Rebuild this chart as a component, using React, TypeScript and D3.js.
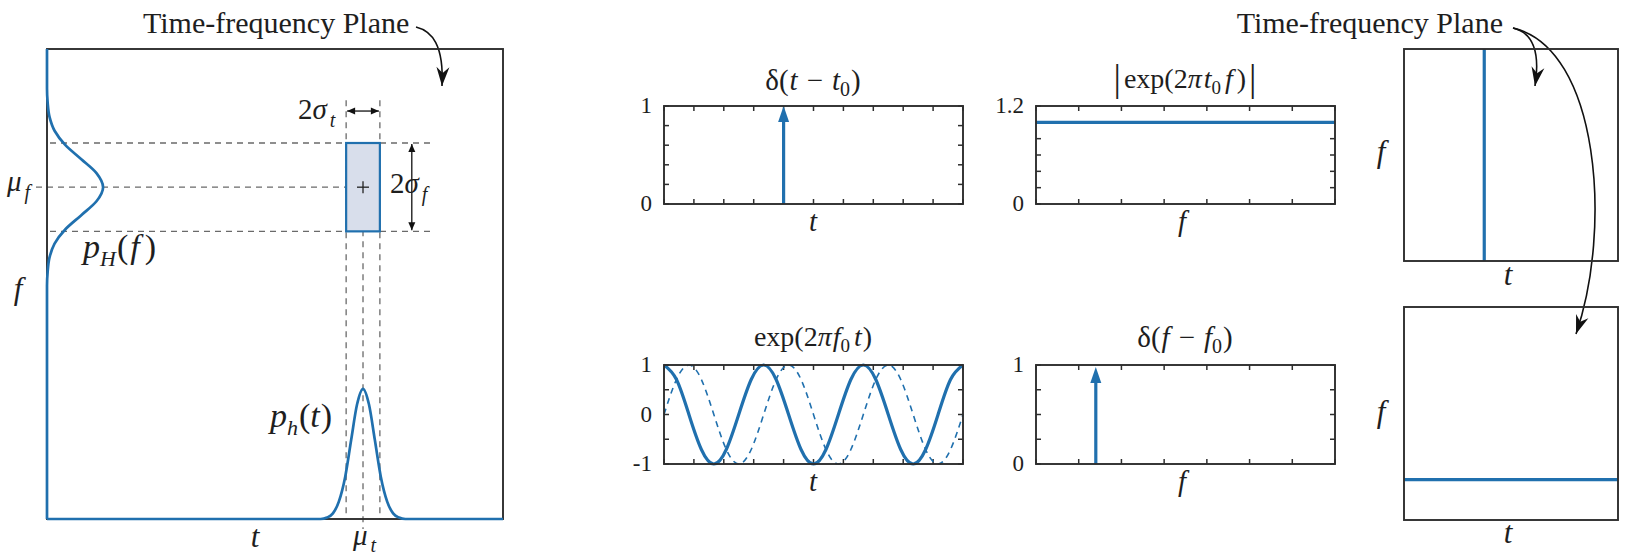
import React from "react";
import * as d3 from "d3";

const BLUE = "#2070ae";
const AXIS = "#2e2e2e";
const DASH = "#6a6a6a";
const FONT = '"Liberation Serif", "Times New Roman", serif';

// ---------- Left panel: time-frequency plane ----------
const phTimes = [0, 0.6, 0.614, 0.627, 0.64, 0.654, 0.667, 0.68, 0.693, 0.706, 0.719, 0.732, 0.746, 0.759, 0.772, 0.786, 1];
const phValues = [0, 0, 0.003, 0.012, 0.037, 0.09, 0.168, 0.244, 0.277, 0.244, 0.168, 0.09, 0.037, 0.012, 0.003, 0, 0];
const pHFreqs = [0, 0.496, 0.526, 0.556, 0.586, 0.616, 0.646, 0.676, 0.706, 0.736, 0.766, 0.796, 0.826, 0.856, 0.886, 0.916, 1];
const pHValues = [0, 0, 0.0014, 0.0054, 0.0166, 0.0399, 0.0746, 0.1085, 0.123, 0.1085, 0.0746, 0.0399, 0.0166, 0.0054, 0.0014, 0, 0];
const muT = 0.693;
const sigmaT = 0.037;
const muF = 0.706;
const sigmaF = 0.094;

// ---------- Middle panels ----------
const deltaTimeTicks = [0, 0.1, 0.2, 0.3, 0.4, 0.5, 0.6, 0.7, 0.8, 0.9, 1];
const deltaTimeYTicks = [0, 0.2, 0.4, 0.6, 0.8, 1];
const deltaTimeYLabels = ["0", "1"];
const t0 = 0.4;

const magFreqTicks = [0, 1, 2, 3, 4, 5, 6, 7];
const magYTicks = [0, 0.2, 0.4, 0.6, 0.8, 1, 1.2];
const magYLabels = ["0", "1.2"];
const magValue = 1;

const waveTimeTicks = [0, 0.1, 0.2, 0.3, 0.4, 0.5, 0.6, 0.7, 0.8, 0.9, 1];
const waveYTicks = [-1, -0.5, 0, 0.5, 1];
const waveYLabels = ["-1", "0", "1"];
const waveTimes = [0, 1 / 24, 2 / 24, 3 / 24, 4 / 24, 5 / 24, 6 / 24, 7 / 24, 8 / 24, 9 / 24, 10 / 24, 11 / 24, 12 / 24, 13 / 24, 14 / 24, 15 / 24, 16 / 24, 17 / 24, 18 / 24, 19 / 24, 20 / 24, 21 / 24, 22 / 24, 23 / 24, 1];
const realPart = [1, 0.707, 0, -0.707, -1, -0.707, 0, 0.707, 1, 0.707, 0, -0.707, -1, -0.707, 0, 0.707, 1, 0.707, 0, -0.707, -1, -0.707, 0, 0.707, 1];
const imagPart = [0, 0.707, 1, 0.707, 0, -0.707, -1, -0.707, 0, 0.707, 1, 0.707, 0, -0.707, -1, -0.707, 0, 0.707, 1, 0.707, 0, -0.707, -1, -0.707, 0];

const deltaFreqTicks = [0, 1, 2, 3, 4, 5, 6, 7];
const deltaFreqYTicks = [0, 0.25, 0.5, 0.75, 1];
const deltaFreqYLabels = ["0", "1"];
const f0 = 1.4;
const deltaFreqHeight = 0.98;

// ---------- Right panels ----------
const planeT0 = 0.375;
const planeF0 = 0.19;

const TS = { fontFamily: FONT };
const IT = { fontFamily: FONT, fontStyle: "italic" as const };

function T(props: any) {
  const { children, style, ...rest } = props;
  return (
    <text fill="#1e1e1e" {...rest} style={{ ...TS, ...(style || {}) }}>
      {children}
    </text>
  );
}

function MiniAxes({ x, y, xTicks, yTicks, yLabels }: any) {
  const [x0, x1] = x.range();
  const [y0, y1] = y.range();
  const tl = 5;
  return (
    <g>
      {xTicks.map((t: number, i: number) => (
        <g key={"x" + i}>
          <line x1={x(t)} x2={x(t)} y1={y0} y2={y0 - tl} stroke={AXIS} strokeWidth={1.5} />
          <line x1={x(t)} x2={x(t)} y1={y1} y2={y1 + tl} stroke={AXIS} strokeWidth={1.5} />
        </g>
      ))}
      {yTicks.map((t: number, i: number) => (
        <g key={"y" + i}>
          <line x1={x0} x2={x0 + tl} y1={y(t)} y2={y(t)} stroke={AXIS} strokeWidth={1.5} />
          <line x1={x1} x2={x1 - tl} y1={y(t)} y2={y(t)} stroke={AXIS} strokeWidth={1.5} />
        </g>
      ))}
      {yLabels.map((l: string, i: number) => (
        <T key={"l" + i} x={x0 - 12} y={y(+l) + 7} textAnchor="end" fontSize={23}>
          {l}
        </T>
      ))}
    </g>
  );
}

function Frame({ x, y }: any) {
  const [x0, x1] = x.range();
  const [y0, y1] = y.range();
  return <rect x={x0} y={y1} width={x1 - x0} height={y0 - y1} fill="none" stroke={AXIS} strokeWidth={1.9} />;
}

function DeltaArrow({ x, y, pos, height }: any) {
  const tipY = y(height);
  const baseY = y.range()[0];
  const hx = x(pos);
  const len = 16;
  return (
    <g>
      <line x1={hx} x2={hx} y1={baseY} y2={tipY + len - 2} stroke={BLUE} strokeWidth={3.2} />
      <path d={`M${hx},${tipY} L${hx - 5.5},${tipY + len} L${hx + 5.5},${tipY + len} Z`} fill={BLUE} />
    </g>
  );
}

export default function App() {
  const xL = d3.scaleLinear().domain([0, 1]).range([47, 503]);
  const yL = d3.scaleLinear().domain([0, 1]).range([519, 49]);
  const phPath = d3
    .line<number>()
    .x((_, i) => xL(phTimes[i]))
    .y((d) => yL(d))
    .curve(d3.curveMonotoneX)(phValues) as string;
  const pHPath = d3
    .line<number>()
    .x((d) => xL(d))
    .y((_, i) => yL(pHFreqs[i]))
    .curve(d3.curveMonotoneY)(pHValues) as string;

  const tA = xL(muT - sigmaT);
  const tB = xL(muT + sigmaT);
  const tC = xL(muT);
  const fA = yL(muF + sigmaF);
  const fB = yL(muF - sigmaF);
  const fC = yL(muF);

  const x1 = d3.scaleLinear().domain([0, 1]).range([664, 963]);
  const y1 = d3.scaleLinear().domain([0, 1]).range([204, 106]);
  const x2 = d3.scaleLinear().domain([0, 7]).range([1036, 1335]);
  const y2 = d3.scaleLinear().domain([0, 1.2]).range([204, 106]);
  const x3 = d3.scaleLinear().domain([0, 1]).range([664, 963]);
  const y3 = d3.scaleLinear().domain([-1, 1]).range([464, 365]);
  const x4 = d3.scaleLinear().domain([0, 7]).range([1036, 1335]);
  const y4 = d3.scaleLinear().domain([0, 1]).range([464, 365]);

  const waveLine = (vals: number[]) =>
    d3
      .line<number>()
      .x((_, i) => x3(waveTimes[i]))
      .y((d) => y3(d))
      .curve(d3.curveNatural)(vals) as string;

  const xR = d3.scaleLinear().domain([0, 1]).range([1404, 1618]);
  const yRT = d3.scaleLinear().domain([0, 1]).range([261, 49]);
  const yRB = d3.scaleLinear().domain([0, 1]).range([520, 307]);

  return (
    <svg width={1635} height={559} style={{ position: "absolute", left: 0, top: 0, background: "#fff" }}>
      <defs>
        <marker id="stealth" viewBox="-20 -10 22 20" refX={0} refY={0} markerWidth={22} markerHeight={20} markerUnits="userSpaceOnUse" orient="auto">
          <path d="M0,0 L-19,-6.5 L-13,0 L-19,6.5 Z" fill="#111" />
        </marker>
        <marker id="smallHead" viewBox="-10 -6 12 12" refX={0} refY={0} markerWidth={12} markerHeight={12} markerUnits="userSpaceOnUse" orient="auto-start-reverse">
          <path d="M0,0 L-8,-3.5 L-8,3.5 Z" fill="#111" />
        </marker>
      </defs>

      {/* ===== Left panel ===== */}
      <T x={143} y={33} fontSize={30}>Time-frequency Plane</T>
      <path d="M416,27 C432,31 444,45 442,86" fill="none" stroke="#111" strokeWidth={1.6} markerEnd="url(#stealth)" />

      <g stroke={DASH} strokeWidth={1.3} strokeDasharray="6,5" fill="none">
        <line x1={xL(0) + 3} x2={xL(0.84)} y1={fA} y2={fA} />
        <line x1={xL(0) + 3} x2={xL(0.84)} y1={fB} y2={fB} />
        <line x1={36} x2={tA} y1={fC} y2={fC} />
        <line x1={tA} x2={tA} y1={yL(0.891)} y2={yL(0)} />
        <line x1={tB} x2={tB} y1={yL(0.891)} y2={yL(0)} />
        <line x1={tC} x2={tC} y1={fC + 10} y2={yL(0) + 10} />
      </g>

      <rect x={tA} y={fA} width={tB - tA} height={fB - fA} fill="#d8deeb" stroke={BLUE} strokeWidth={2.2} />
      <line x1={tC - 6} x2={tC + 6} y1={fC} y2={fC} stroke="#222" strokeWidth={1.3} />
      <line x1={tC} x2={tC} y1={fC - 6} y2={fC + 6} stroke="#222" strokeWidth={1.3} />

      <rect x={xL(0)} y={yL(1)} width={xL(1) - xL(0)} height={yL(0) - yL(1)} fill="none" stroke={AXIS} strokeWidth={1.9} />

      <path d={phPath} fill="none" stroke={BLUE} strokeWidth={2.7} />
      <path d={pHPath} fill="none" stroke={BLUE} strokeWidth={2.7} />

      <line x1={tA + 1} x2={tB - 1} y1={yL(0.868)} y2={yL(0.868)} stroke="#111" strokeWidth={1.3} markerStart="url(#smallHead)" markerEnd="url(#smallHead)" />
      <line x1={xL(0.8)} x2={xL(0.8)} y1={fA + 1} y2={fB - 1} stroke="#111" strokeWidth={1.3} markerStart="url(#smallHead)" markerEnd="url(#smallHead)" />

      <T x={298} y={119} fontSize={29}>
        2<tspan style={IT}>σ</tspan>
        <tspan style={IT} fontSize={20} dy={8} dx={3}>t</tspan>
      </T>
      <T x={390} y={193} fontSize={29}>
        2<tspan style={IT}>σ</tspan>
        <tspan style={IT} fontSize={20} dy={8} dx={3}>f</tspan>
      </T>
      <T x={7} y={191} fontSize={29}>
        <tspan style={IT}>μ</tspan>
        <tspan style={IT} fontSize={20} dy={8} dx={3}>f</tspan>
      </T>
      <T x={83} y={258} fontSize={34}>
        <tspan style={IT}>p</tspan>
        <tspan style={IT} fontSize={22} dy={8}>H</tspan>
        <tspan dy={-8} dx={1}>(</tspan>
        <tspan style={IT} dx={2}>f</tspan>
        <tspan dx={5}>)</tspan>
      </T>
      <T x={270} y={427} fontSize={34}>
        <tspan style={IT}>p</tspan>
        <tspan style={IT} fontSize={22} dy={8}>h</tspan>
        <tspan dy={-8} dx={1}>(</tspan>
        <tspan style={IT}>t</tspan>
        <tspan dx={1}>)</tspan>
      </T>
      <T x={18} y={299} fontSize={31} textAnchor="middle" style={IT}>f</T>
      <T x={255} y={547} fontSize={31} textAnchor="middle" style={IT}>t</T>
      <T x={353} y={545} fontSize={29}>
        <tspan style={IT}>μ</tspan>
        <tspan style={IT} fontSize={20} dy={7} dx={3}>t</tspan>
      </T>

      {/* ===== Middle panel 1 ===== */}
      <T x={813} y={90} fontSize={29} textAnchor="middle">
        δ(<tspan style={IT} dx={1}>t</tspan>
        <tspan dx={9}>−</tspan>
        <tspan style={IT} dx={9}>t</tspan>
        <tspan fontSize={20} dy={6}>0</tspan>
        <tspan dy={-6} dx={1}>)</tspan>
      </T>
      <MiniAxes x={x1} y={y1} xTicks={deltaTimeTicks} yTicks={deltaTimeYTicks} yLabels={deltaTimeYLabels} />
      <DeltaArrow x={x1} y={y1} pos={t0} height={1} />
      <Frame x={x1} y={y1} />
      <T x={813} y={231} fontSize={29} textAnchor="middle" style={IT}>t</T>

      {/* ===== Middle panel 2 ===== */}
      <T x={1185} y={88} fontSize={28} textAnchor="middle">
        <tspan fontSize={37} dy={3}>|</tspan>
        <tspan dy={-3} dx={3}>exp(2</tspan>
        <tspan style={IT}>π</tspan>
        <tspan style={IT} dx={2}>t</tspan>
        <tspan fontSize={19} dy={6}>0</tspan>
        <tspan style={IT} dy={-6} dx={4}>f</tspan>
        <tspan dx={4}>)</tspan>
        <tspan fontSize={37} dy={3} dx={3}>|</tspan>
      </T>
      <MiniAxes x={x2} y={y2} xTicks={magFreqTicks} yTicks={magYTicks} yLabels={magYLabels} />
      <line x1={x2(0)} x2={x2(7)} y1={y2(magValue)} y2={y2(magValue)} stroke={BLUE} strokeWidth={3.2} />
      <Frame x={x2} y={y2} />
      <T x={1182} y={231} fontSize={29} textAnchor="middle" style={IT}>f</T>

      {/* ===== Middle panel 3 ===== */}
      <T x={813} y={346} fontSize={28} textAnchor="middle">
        exp(2<tspan style={IT}>π</tspan>
        <tspan style={IT} dx={1}>f</tspan>
        <tspan fontSize={19} dy={6}>0</tspan>
        <tspan style={IT} dy={-6} dx={4}>t</tspan>
        <tspan dx={1}>)</tspan>
      </T>
      <MiniAxes x={x3} y={y3} xTicks={waveTimeTicks} yTicks={waveYTicks} yLabels={waveYLabels} />
      <path d={waveLine(imagPart)} fill="none" stroke={BLUE} strokeWidth={1.6} strokeDasharray="6,5" />
      <path d={waveLine(realPart)} fill="none" stroke={BLUE} strokeWidth={3.2} />
      <Frame x={x3} y={y3} />
      <T x={813} y={491} fontSize={29} textAnchor="middle" style={IT}>t</T>

      {/* ===== Middle panel 4 ===== */}
      <T x={1185} y={347} fontSize={29} textAnchor="middle">
        δ(<tspan style={IT} dx={1}>f</tspan>
        <tspan dx={9}>−</tspan>
        <tspan style={IT} dx={9}>f</tspan>
        <tspan fontSize={20} dy={6}>0</tspan>
        <tspan dy={-6} dx={1}>)</tspan>
      </T>
      <MiniAxes x={x4} y={y4} xTicks={deltaFreqTicks} yTicks={deltaFreqYTicks} yLabels={deltaFreqYLabels} />
      <DeltaArrow x={x4} y={y4} pos={f0} height={deltaFreqHeight} />
      <Frame x={x4} y={y4} />
      <T x={1182} y={491} fontSize={29} textAnchor="middle" style={IT}>f</T>

      {/* ===== Right panels ===== */}
      <T x={1503} y={33} fontSize={30} textAnchor="end">Time-frequency Plane</T>
      <path d="M1513,28 C1530,32 1541,48 1535,86" fill="none" stroke="#111" strokeWidth={1.6} markerEnd="url(#stealth)" />
      <path d="M1513,28 C1600,48 1612,230 1576,334" fill="none" stroke="#111" strokeWidth={1.6} markerEnd="url(#stealth)" />

      <line x1={xR(planeT0)} x2={xR(planeT0)} y1={yRT(0)} y2={yRT(1)} stroke={BLUE} strokeWidth={3.2} />
      <rect x={xR(0)} y={yRT(1)} width={xR(1) - xR(0)} height={yRT(0) - yRT(1)} fill="none" stroke={AXIS} strokeWidth={1.9} />
      <T x={1381} y={162} fontSize={31} textAnchor="middle" style={IT}>f</T>
      <T x={1508} y={285} fontSize={31} textAnchor="middle" style={IT}>t</T>

      <line x1={xR(0)} x2={xR(1)} y1={yRB(planeF0)} y2={yRB(planeF0)} stroke={BLUE} strokeWidth={3.2} />
      <rect x={xR(0)} y={yRB(1)} width={xR(1) - xR(0)} height={yRB(0) - yRB(1)} fill="none" stroke={AXIS} strokeWidth={1.9} />
      <T x={1381} y={422} fontSize={31} textAnchor="middle" style={IT}>f</T>
      <T x={1508} y={543} fontSize={31} textAnchor="middle" style={IT}>t</T>
    </svg>
  );
}
